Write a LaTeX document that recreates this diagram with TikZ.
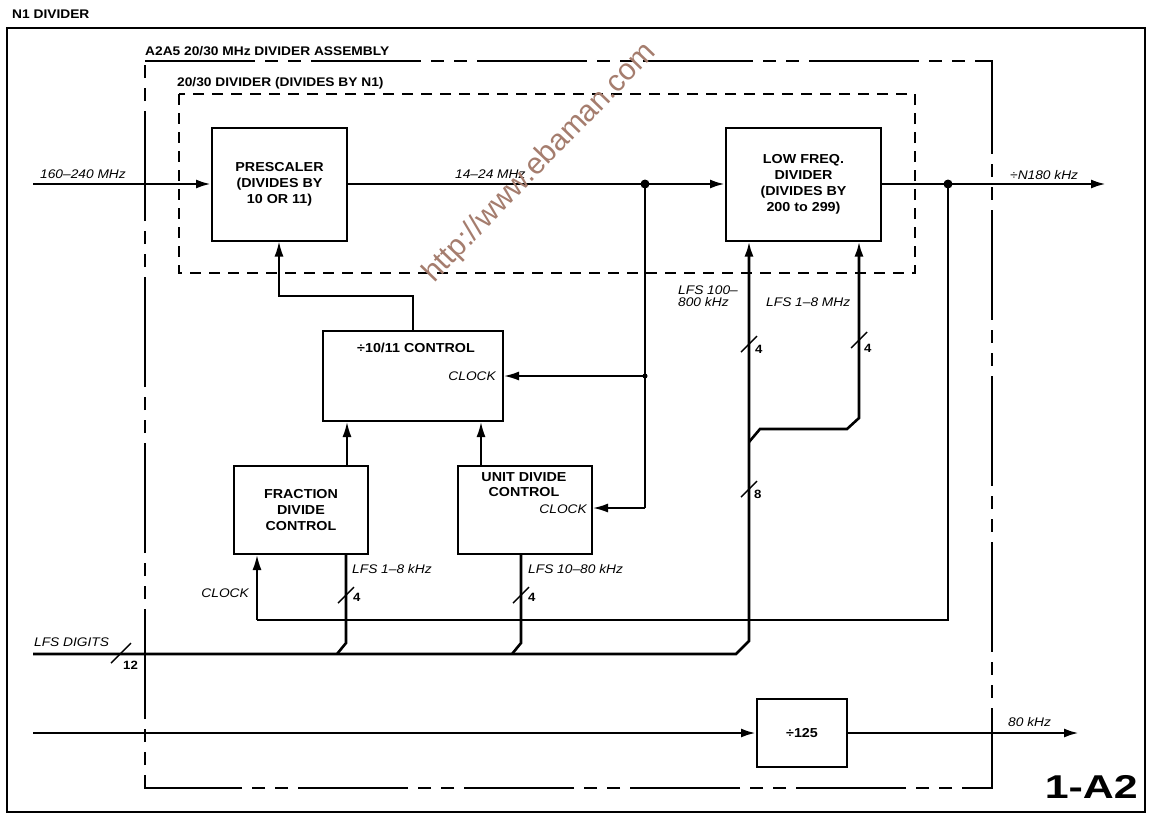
\documentclass[tikz,border=0pt]{standalone}
\usepackage{fontspec}
\setmainfont{Liberation Sans}
\newfontfamily\lsf{Liberation Sans}[FakeStretch=1.1]
\newfontfamily\lsfw{Liberation Sans}[FakeStretch=1.3]
\usetikzlibrary{arrows.meta}
\definecolor{wmcol}{RGB}{165,125,110}
\begin{document}
\begin{tikzpicture}[x=1pt,y=-1pt,
  box/.style={draw, line width=2pt, inner sep=0pt, align=center,
    font=\lsf\bfseries\fontsize{13}{16}\selectfont},
  btxt/.style={inner sep=0pt, align=center, font=\lsf\bfseries\fontsize{13}{15}\selectfont},
  ttl/.style={inner sep=0pt, font=\lsf\bfseries\fontsize{12.5}{14}\selectfont},
  ilab/.style={inner sep=0pt, font=\lsf\itshape\fontsize{12.5}{14}\selectfont},
  sig/.style={line width=2.6pt},
  cl/.style={line width=1.7pt},
  tip/.style={-{Latex[length=15pt,width=9pt]}},
  slashmark/.style={line width=1.4pt},
  wm/.style={inner sep=0pt, text=wmcol, font=\fontsize{30}{32}\selectfont}
]
\fill[white] (0,0) rectangle (1149,815);
\useasboundingbox (0,0) rectangle (1149,815);

% frames
\draw[line width=2pt] (7,28) rectangle (1145,812);
\node[ttl, anchor=west] (t0) at (12,14) {N1 DIVIDER};
\draw[line width=2pt, dash pattern=on 110pt off 10pt on 13pt off 10pt on 13pt off 10pt]
  (145,61) -- (992,61) -- (992,788) -- (145,788) -- cycle;
\node[ttl, anchor=west] (t1) at (145,51) {A2A5 20/30 MHz DIVIDER ASSEMBLY};
\draw[line width=2pt, dash pattern=on 11pt off 8pt] (179,94) rectangle (915,273);
\node[ttl, anchor=west] (t2) at (177,83) {20/30 DIVIDER (DIVIDES BY N1)};

% blocks
\node[box, minimum width=135pt, minimum height=113pt] (pre) at (279.5,184) {PRESCALER\\(DIVIDES BY\\10 OR 11)};
\node[box, minimum width=155pt, minimum height=113pt] (lfd) at (803.5,184) {LOW FREQ.\\DIVIDER\\(DIVIDES BY\\200 to 299)};
\node[box, minimum width=180pt, minimum height=90pt] (ctrl) at (413,376) {};
\node[btxt] (ctrlt) at (416,348) {÷10/11 CONTROL};
\node[ilab, anchor=east] (ctrlclk) at (496,376) {CLOCK};
\node[box, minimum width=134pt, minimum height=88pt] (frac) at (301,510) {FRACTION\\DIVIDE\\CONTROL};
\node[box, minimum width=134pt, minimum height=88pt] (unit) at (525,510) {};
\node[btxt] (unitt) at (524,484.5) {UNIT DIVIDE\\CONTROL};
\node[ilab, anchor=east] (unitclk) at (587,509) {CLOCK};
\node[box, minimum width=90pt, minimum height=68pt] (d125) at (802,733) {÷125};

% main signal path
\coordinate (in1) at (33,184);
\coordinate (j1) at (645,184);
\coordinate (j2) at (948,184);
\coordinate (out1) at (1106,184);
\draw[sig, tip] (in1) -- (pre.west);
\draw[sig] (pre.east) -- (j1);
\draw[sig, tip] (j1) -- (lfd.west);
\draw[sig] (lfd.east) -- (j2);
\draw[sig, tip] (j2) -- (out1);
\fill (j1) circle (4.5pt);
\fill (j2) circle (4.5pt);
\node[ilab, anchor=west] (l160) at (40,174) {160–240 MHz};
\node[ilab, anchor=west] (l14) at (455,174) {14–24 MHz};
\node[ilab, anchor=west] (ln180) at (1010,175) {÷N180 kHz};

% clock lines
\coordinate (c1) at (645,376);
\coordinate (c2) at (645,508);
\draw[cl] (j1) -- (c2);
\draw[cl, tip] (c2) -- (unit.east |- c2);
\draw[cl, tip] (c1) -- (ctrl.east |- c1);
\fill (c1) circle (2.5pt);
\coordinate (c3) at (948,620);
\coordinate (c4) at (257,620);
\draw[cl] (j2) -- (c3) -- (c4);
\draw[cl, tip] (c4) -- (c4 |- frac.south);
\node[ilab, anchor=east] (fclk) at (249,593) {CLOCK};

% feedback to prescaler
\coordinate (f1) at (413,296);
\coordinate (f2) at (279,296);
\draw[cl, tip] (ctrl.north) -- (f1) -- (f2) -- (f2 |- pre.south);

% controls to ÷10/11 control
\coordinate (fa) at (347,440);
\coordinate (ua) at (481,440);
\draw[cl, tip] (fa |- frac.north) -- (fa |- ctrl.south);
\draw[cl, tip] (ua |- unit.north) -- (ua |- ctrl.south);

% LFS digits bus
\coordinate (b0) at (33,654);
\coordinate (b1) at (736,654);
\coordinate (b2) at (749,641);
\draw[sig, tip] (b0) -- (b1) -- (b2) -- (b2 |- lfd.south);
\coordinate (r0) at (749,442);
\coordinate (r1) at (760,429);
\coordinate (r2) at (847,429);
\coordinate (r3) at (859,418);
\draw[sig, tip] (r0) -- (r1) -- (r2) -- (r3) -- (r3 |- lfd.south);
\coordinate (fl1) at (346,643);
\coordinate (fl2) at (337,654);
\draw[sig] (fl1 |- frac.south) -- (fl1) -- (fl2);
\coordinate (ul1) at (521,643);
\coordinate (ul2) at (512,654);
\draw[sig] (ul1 |- unit.south) -- (ul1) -- (ul2);
\node[ilab, anchor=west] (llfs) at (34,642) {LFS DIGITS};
\node[ilab, anchor=west] (l18k) at (352,569) {LFS 1–8 kHz};
\node[ilab, anchor=west] (l1080) at (528,569) {LFS 10–80 kHz};
\node[ilab, anchor=north west, align=left, font=\lsf\itshape\fontsize{12.5}{11.5}\selectfont] (l100) at (678,286) {LFS 100–\\800 kHz};
\node[ilab, anchor=west] (l18m) at (766,302) {LFS 1–8 MHz};

% bus width marks
\coordinate (s12) at (121,653);
\coordinate (s4a) at (346,595);
\coordinate (s4b) at (521,595);
\coordinate (s4c) at (749,344);
\coordinate (s4d) at (859,340);
\coordinate (s8) at (749,489);
\foreach \s in {s4a,s4b,s4c,s4d,s8}
  \draw[slashmark] ([shift={(-8,8)}]\s) -- ([shift={(8,-8)}]\s);
\draw[slashmark] ([shift={(-10,10)}]s12) -- ([shift={(10,-10)}]s12);
\node[btxt, anchor=west, font=\lsf\bfseries\fontsize{12}{14}\selectfont] (n12) at (123,665) {12};
\node[btxt, anchor=west, font=\lsf\bfseries\fontsize{12}{14}\selectfont] (n4a) at (353,597) {4};
\node[btxt, anchor=west, font=\lsf\bfseries\fontsize{12}{14}\selectfont] (n4b) at (528,597) {4};
\node[btxt, anchor=west, font=\lsf\bfseries\fontsize{12}{14}\selectfont] (n4c) at (755,349) {4};
\node[btxt, anchor=west, font=\lsf\bfseries\fontsize{12}{14}\selectfont] (n4d) at (864,348) {4};
\node[btxt, anchor=west, font=\lsf\bfseries\fontsize{12}{14}\selectfont] (n8) at (754,494) {8};

% 80 kHz path
\coordinate (in2) at (33,733);
\coordinate (out2) at (1079,733);
\draw[sig, tip] (in2) -- (d125.west);
\draw[sig, tip] (d125.east) -- (out2);
\node[ilab, anchor=west] (l80) at (1008,722) {80 kHz};

% figure number
\node[inner sep=0pt, anchor=east, font=\lsfw\bfseries\fontsize{33}{38}\selectfont] (fig) at (1138,787) {1-A2};

% watermark
\node[wm, rotate=46] (wmk) at (540,163) {http://www.ebaman.com};
\end{tikzpicture}
\end{document}
